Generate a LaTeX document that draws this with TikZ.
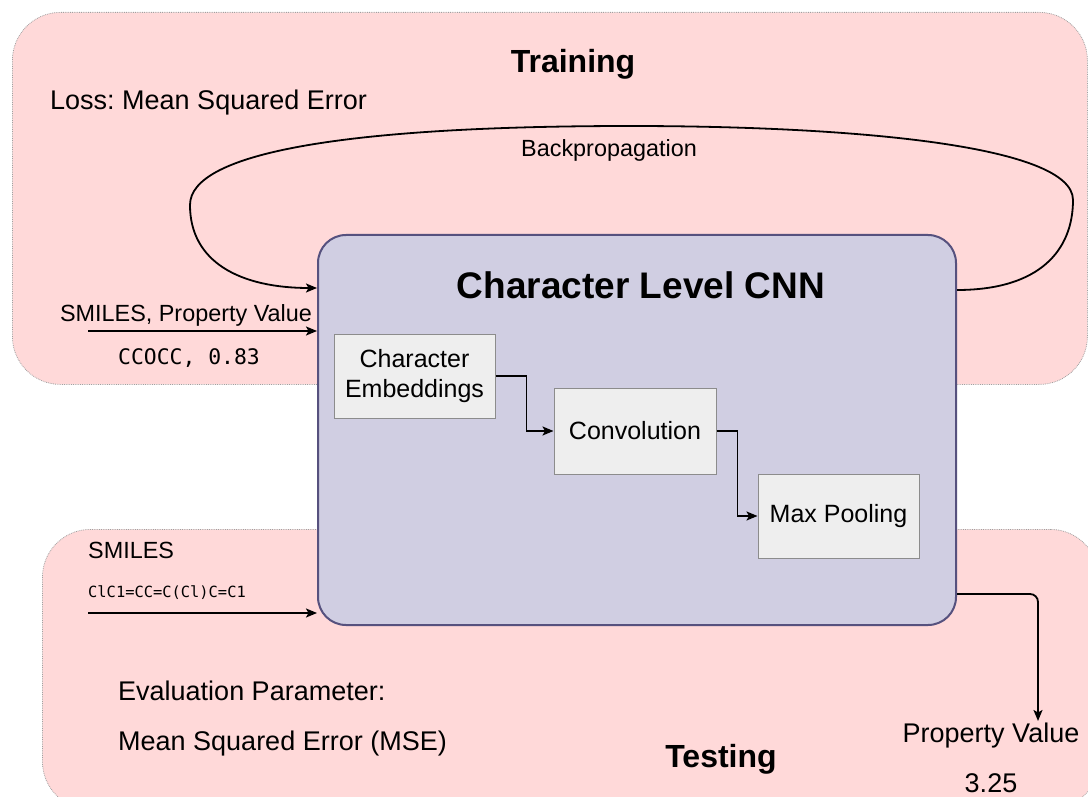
\documentclass[tikz,border=0pt]{standalone}
\usepackage{fontspec}
\setmainfont{Liberation Sans}
\newfontfamily\codefont{DejaVu Sans Mono}
\usetikzlibrary{arrows.meta,calc}

\definecolor{phasefill}{HTML}{FFD9D9}
\definecolor{phaseline}{HTML}{A0A0A0}
\definecolor{cnnfill}{HTML}{D0CEE2}
\definecolor{cnnline}{HTML}{56517E}
\definecolor{layerfill}{HTML}{EEEEEE}
\definecolor{layerline}{HTML}{8C8C8C}

\begin{document}
\frenchspacing
\begin{tikzpicture}[x=1pt,y=-1pt,
  phase/.style={draw=phaseline, fill=phasefill, densely dotted, line width=0.8pt,
    rounded corners=48pt, anchor=north west, inner sep=0pt},
  cnnbox/.style={draw=cnnline, fill=cnnfill, line width=2pt, rounded corners=28pt,
    anchor=north west, inner sep=0pt},
  layer/.style={draw=layerline, fill=layerfill, line width=1pt, align=center,
    inner sep=0pt, font=\fontsize{25}{30}\selectfont},
  flow/.style={draw=black, line width=1.8pt, -{Stealth[length=11pt,width=9pt,inset=2.5pt]}},
  heading/.style={font=\bfseries\fontsize{32}{38}\selectfont, anchor=base, inner sep=0pt},
  label/.style={font=\fontsize{27}{32}\selectfont, inner sep=0pt},
  smalllabel/.style={font=\fontsize{23.4}{28}\selectfont, inner sep=0pt},
]
\useasboundingbox (0,0) rectangle (1088,797);
\clip (0,0) rectangle (1088,797);

% phase containers
\node[phase, minimum width=1075pt, minimum height=372pt] (train) at (12,12) {};
\node[phase, minimum width=1056pt, minimum height=280pt] (test) at (42,529) {};

% model container
\node[cnnbox, minimum width=638pt, minimum height=390pt] (cnn) at (317,234) {};
\node[font=\bfseries\fontsize{37}{44}\selectfont, anchor=base, inner sep=0pt] (cnntitle) at (641,298) {Character Level CNN};

% layers
\node[layer, minimum width=161pt, minimum height=84pt] (emb) at (414.5,376) {Character\\Embeddings};
\node[layer, minimum width=162pt, minimum height=86pt] (conv) at (635,431) {Convolution};
\node[layer, minimum width=161pt, minimum height=84pt] (pool) at (838.5,516) {Max Pooling};

\draw[flow] (emb.east) -- ++(31,0) |- (conv.west);
\draw[flow] (conv.east) -- ++(21,0) |- (pool.west);

% training texts
\node[heading] (traintitle) at (573,73) {Training};
\node[label, anchor=base west] (loss) at (50,110) {Loss: Mean Squared Error};
\node[smalllabel, anchor=base] (bplabel) at (609,157) {Backpropagation};
\node[smalllabel, anchor=base] (trainin) at (186,321) {SMILES, Property Value};
\node[font=\codefont\fontsize{21.4}{26}\selectfont, anchor=base, inner sep=0pt] (trainex) at (189,364) {CCOCC, 0.83};

% testing texts
\node[heading] (testtitle) at (721,767) {Testing};
\node[smalllabel, anchor=base west] (testin) at (88,558) {SMILES};
\node[font=\codefont\fontsize{15.4}{19}\selectfont, anchor=base west, inner sep=0pt] (testex) at (88,597) {ClC1=CC=C(Cl)C=C1};
\node[label, anchor=base west] (evalp) at (118,700) {Evaluation Parameter:};
\node[label, anchor=base west] (evalm) at (118,750) {Mean Squared Error (MSE)};
\node[label, anchor=base] (propout) at (991,742) {Property Value};
\node[label, anchor=base] (propval) at (991,792) {3.25};

% connectors
\coordinate (bpy) at (0,290);
\coordinate (bpend) at (0,288);
\draw[flow] (cnn.east |- bpy) .. controls (1040,290) and (1073,250) .. (1073,200)
  .. controls (1073,145) and (850,126) .. (630,126)
  .. controls (350,126) and (190,152) .. (190,205)
  .. controls (190,262) and (240,288) .. (cnn.west |- bpend);

\coordinate (trainsrc) at (88,331);
\draw[flow] (trainsrc) -- (cnn.west |- trainsrc);
\coordinate (testsrc) at (88,613);
\draw[flow] (testsrc) -- (cnn.west |- testsrc);

\coordinate (outy) at (0,594);
\coordinate (outend) at (1038,721);
\draw[flow, rounded corners=8pt] (cnn.east |- outy) -| (outend);
\end{tikzpicture}
\end{document}
